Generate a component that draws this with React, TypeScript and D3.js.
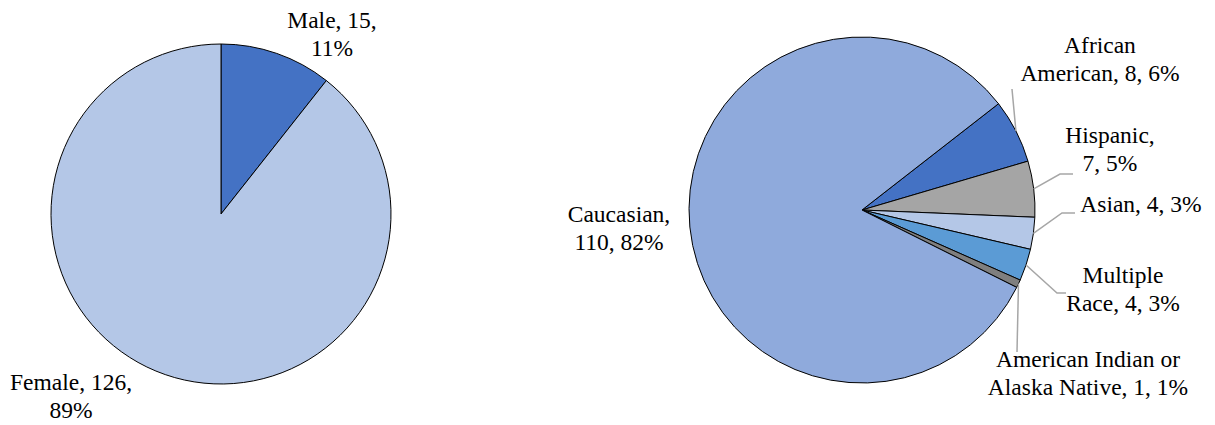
import React from "react";
import * as d3 from "d3";

// Gender breakdown
const genderCategories = ["Male", "Female"];
const genderCounts = [15, 126];

// Race / ethnicity breakdown (clockwise order, starting after Caucasian)
const raceCategories = [
  "African American",
  "Hispanic",
  "Asian",
  "Multiple Race",
  "American Indian or Alaska Native",
  "Caucasian",
];
const raceCounts = [8, 7, 4, 4, 1, 110];

const FONT = "Liberation Serif";
const FONT_SIZE = 23.5;
const LINE_H = 27.5;

const genderColors: Record<string, string> = {
  Male: "#4472C4",
  Female: "#B4C7E7",
};
const raceColors: Record<string, string> = {
  "African American": "#4472C4",
  Hispanic: "#A5A5A5",
  Asian: "#B4C7E7",
  "Multiple Race": "#5B9BD5",
  "American Indian or Alaska Native": "#7F7F7F",
  Caucasian: "#8FAADC",
};

type LabelLayout = {
  lines: (name: string, v: number, p: string) => string[];
  x: number;
  y: number; // baseline of first line
  leader?: [number, number][]; // points after the slice edge
};

const genderLabels: Record<string, LabelLayout> = {
  Male: { lines: (n, v, p) => [`${n}, ${v},`, p], x: 332, y: 28 },
  Female: { lines: (n, v, p) => [`${n}, ${v},`, p], x: 71, y: 390 },
};

const raceLabels: Record<string, LabelLayout> = {
  "African American": {
    lines: (n, v, p) => ["African", `American, ${v}, ${p}`],
    x: 1100,
    y: 53,
    leader: [[1012, 89]],
  },
  Hispanic: {
    lines: (n, v, p) => [`${n},`, `${v}, ${p}`],
    x: 1110,
    y: 143,
    leader: [[1060, 174], [1073, 174]],
  },
  Asian: {
    lines: (n, v, p) => [`${n}, ${v}, ${p}`],
    x: 1141,
    y: 212,
    leader: [[1062, 213], [1075, 213]],
  },
  "Multiple Race": {
    lines: (n, v, p) => ["Multiple", `Race, ${v}, ${p}`],
    x: 1123,
    y: 283,
    leader: [[1057, 293], [1066, 293]],
  },
  "American Indian or Alaska Native": {
    lines: (n, v, p) => ["American Indian or", `Alaska Native, ${v}, ${p}`],
    x: 1088,
    y: 367,
    leader: [[1017, 352]],
  },
  Caucasian: {
    lines: (n, v, p) => [`${n},`, `${v}, ${p}`],
    x: 619,
    y: 222,
  },
};

type PieProps = {
  cats: string[];
  vals: number[];
  colors: Record<string, string>;
  labels: Record<string, LabelLayout>;
  cx: number;
  cy: number;
  r: number;
  startDeg: number;
};

function Pie({ cats, vals, colors, labels, cx, cy, r, startDeg }: PieProps) {
  const total = d3.sum(vals);
  const start = (startDeg * Math.PI) / 180;
  const pie = d3
    .pie<number>()
    .sort(null)
    .startAngle(start)
    .endAngle(start + 2 * Math.PI);
  const arcs = pie(vals);
  const arc = d3.arc<d3.PieArcDatum<number>>().innerRadius(0).outerRadius(r);
  const line = d3.line();

  return (
    <g>
      <g transform={`translate(${cx},${cy})`}>
        {arcs.map((a, i) => (
          <path
            key={cats[i]}
            d={arc(a) || ""}
            fill={colors[cats[i]]}
            stroke="#000"
            strokeWidth={1}
            strokeLinejoin="round"
          />
        ))}
      </g>
      {arcs.map((a, i) => {
        const lay = labels[cats[i]];
        if (!lay || !lay.leader) return null;
        const mid = (a.startAngle + a.endAngle) / 2;
        const p0: [number, number] = [cx + r * Math.sin(mid), cy - r * Math.cos(mid)];
        return (
          <path
            key={`l-${cats[i]}`}
            d={line([p0, ...lay.leader]) || ""}
            fill="none"
            stroke="#A6A6A6"
            strokeWidth={1.5}
          />
        );
      })}
      {arcs.map((a, i) => {
        const lay = labels[cats[i]];
        if (!lay) return null;
        const pct = `${Math.round((vals[i] / total) * 100)}%`;
        const lines = lay.lines(cats[i], vals[i], pct);
        return (
          <text
            key={`t-${cats[i]}`}
            x={lay.x}
            y={lay.y}
            textAnchor="middle"
            style={{ fontFamily: FONT, fontSize: FONT_SIZE }}
            fill="#000"
          >
            {lines.map((t, j) => (
              <tspan key={j} x={lay.x} y={lay.y + j * LINE_H}>
                {t}
              </tspan>
            ))}
          </text>
        );
      })}
    </g>
  );
}

export default function App() {
  return (
    <svg
      width={1215}
      height={425}
      style={{ position: "absolute", left: 0, top: 0, background: "#fff" }}
    >
      <rect width={1215} height={425} fill="#fff" />
      <Pie
        cats={genderCategories}
        vals={genderCounts}
        colors={genderColors}
        labels={genderLabels}
        cx={221}
        cy={214}
        r={170}
        startDeg={0}
      />
      <Pie
        cats={raceCategories}
        vals={raceCounts}
        colors={raceColors}
        labels={raceLabels}
        cx={862}
        cy={210}
        r={173}
        startDeg={52.1}
      />
    </svg>
  );
}
